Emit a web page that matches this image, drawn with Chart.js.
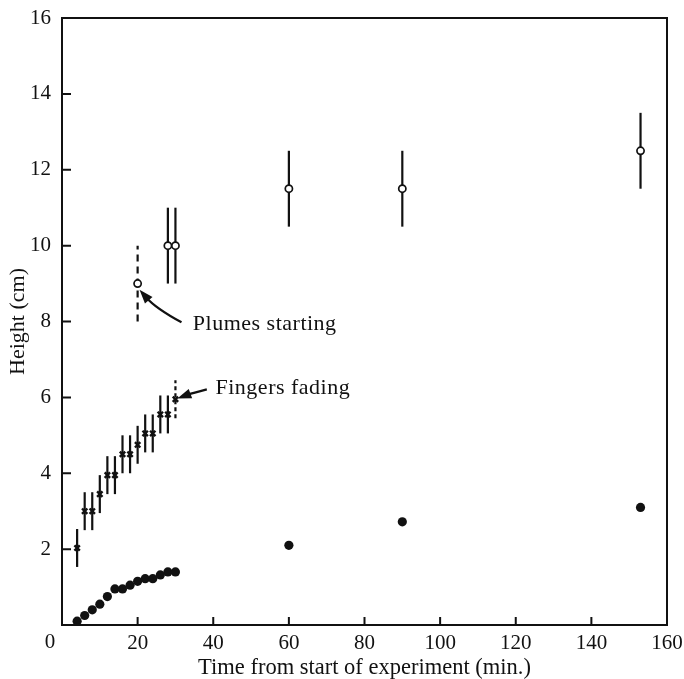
<!DOCTYPE html>
<html><head><meta charset="utf-8">
<script src="https://cdn.jsdelivr.net/npm/chart.js@4/dist/chart.umd.min.js"></script>
<style>html,body{margin:0;padding:0;background:#fff}</style>
</head><body>
<canvas id="c" width="684" height="679" style="display:block;width:684px;height:679px"></canvas>
<script>
// ---- data ----
const xTickValues = [0, 20, 40, 60, 80, 100, 120, 140, 160];
const yTickValues = [0, 2, 4, 6, 8, 10, 12, 14, 16];

// Fingers (small markers with error bars)
const fingerTime   = [4, 6, 8, 10, 12, 14, 16, 18, 20, 22, 24, 26, 28, 30];
const fingerHeight = [2.03, 3.0, 3.0, 3.45, 3.95, 3.95, 4.5, 4.5, 4.75, 5.05, 5.05, 5.55, 5.55, 5.95];
const fingerErr    = [0.5, 0.5, 0.5, 0.5, 0.5, 0.5, 0.5, 0.5, 0.5, 0.5, 0.5, 0.5, 0.5, 0.5];
const fingerDashed = [false, false, false, false, false, false, false, false, false, false, false, false, false, true];

// Plumes (open circles with error bars)
const plumeTime   = [20, 28, 30, 60, 90, 153];
const plumeHeight = [9.0, 10.0, 10.0, 11.5, 11.5, 12.5];
const plumeErr    = [1.0, 1.0, 1.0, 1.0, 1.0, 1.0];
const plumeDashed = [true, false, false, false, false, false];

// Interface (filled circles)
const solidTime   = [4, 6, 8, 10, 12, 14, 16, 18, 20, 22, 24, 26, 28, 30, 60, 90, 153];
const solidHeight = [0.1, 0.25, 0.4, 0.55, 0.75, 0.95, 0.95, 1.05, 1.15, 1.22, 1.22, 1.32, 1.4, 1.4, 2.1, 2.72, 3.1];

// Annotation texts
const annPlumesText = 'Plumes starting';
const annFingersText = 'Fingers fading';

const INK = '#111';
const FONT = 'Liberation Serif, Times New Roman, serif';

function pts(xs, ys) { return xs.map((x, i) => ({x: x, y: ys[i]})); }

const errorBarPlugin = {
  id: 'errorBars',
  beforeDatasetsDraw(chart) {
    const ctx = chart.ctx, xs = chart.scales.x, ys = chart.scales.y;
    chart.data.datasets.forEach(ds => {
      if (!ds.errors) return;
      ds.data.forEach((p, i) => {
        const px = xs.getPixelForValue(p.x);
        const y1 = ys.getPixelForValue(p.y - ds.errors[i]);
        const y2 = ys.getPixelForValue(p.y + ds.errors[i]);
        ctx.save();
        ctx.strokeStyle = INK;
        ctx.lineWidth = 2.2;
        if (ds.dashed && ds.dashed[i]) ctx.setLineDash(ds.dashPattern || [6, 5]);
        ctx.beginPath();
        ctx.moveTo(px, y1); ctx.lineTo(px, y2);
        ctx.stroke();
        ctx.restore();
      });
    });
  }
};

const framePlugin = {
  id: 'frame',
  afterDraw(chart) {
    const ctx = chart.ctx, a = chart.chartArea, xs = chart.scales.x, ys = chart.scales.y;
    ctx.save();
    ctx.strokeStyle = INK;
    ctx.lineWidth = 2;
    ctx.strokeRect(a.left, a.top, a.right - a.left, a.bottom - a.top);
    ctx.beginPath();
    xTickValues.forEach(v => {
      if (v === 0 || v === 160) return;
      const px = xs.getPixelForValue(v);
      ctx.moveTo(px, a.bottom); ctx.lineTo(px, a.bottom - 8);
    });
    yTickValues.forEach(v => {
      if (v === 0 || v === 16) return;
      const py = ys.getPixelForValue(v);
      ctx.moveTo(a.left, py); ctx.lineTo(a.left + 9, py);
    });
    ctx.stroke();
    // shared corner "0" label, set left of the origin as in the reference
    ctx.fillStyle = INK;
    ctx.font = '21px ' + FONT;
    ctx.textAlign = 'center';
    ctx.textBaseline = 'middle';
    ctx.fillText(String(xTickValues[0]), xs.getPixelForValue(xTickValues[0]) - 12, a.bottom + 17);
    ctx.restore();
  }
};

function arrow(ctx, xs, ys, tail, ctrl, head) {
  const t = [xs.getPixelForValue(tail[0]), ys.getPixelForValue(tail[1])];
  const c = [xs.getPixelForValue(ctrl[0]), ys.getPixelForValue(ctrl[1])];
  const h = [xs.getPixelForValue(head[0]), ys.getPixelForValue(head[1])];
  const ang = Math.atan2(h[1] - c[1], h[0] - c[0]);
  const L = 14, W = 5;
  const bx = h[0] - L * Math.cos(ang), by = h[1] - L * Math.sin(ang);
  ctx.beginPath();
  ctx.moveTo(t[0], t[1]);
  ctx.quadraticCurveTo(c[0], c[1], bx + 3 * Math.cos(ang), by + 3 * Math.sin(ang));
  ctx.stroke();
  ctx.beginPath();
  ctx.moveTo(h[0], h[1]);
  ctx.lineTo(bx + W * Math.sin(ang), by - W * Math.cos(ang));
  ctx.lineTo(bx - W * Math.sin(ang), by + W * Math.cos(ang));
  ctx.closePath();
  ctx.fill();
}

const annotationPlugin = {
  id: 'annotations',
  afterDatasetsDraw(chart) {
    const ctx = chart.ctx, xs = chart.scales.x, ys = chart.scales.y;
    ctx.save();
    ctx.fillStyle = INK; ctx.strokeStyle = INK; ctx.lineWidth = 2.2;
    ctx.font = '22px ' + FONT;
    try { ctx.letterSpacing = '0.5px'; } catch (e) {}
    ctx.textBaseline = 'middle';
    ctx.textAlign = 'left';
    ctx.fillText(annPlumesText, xs.getPixelForValue(34.6), ys.getPixelForValue(7.92));
    ctx.fillText(annFingersText, xs.getPixelForValue(40.6), ys.getPixelForValue(6.24));
    try { ctx.letterSpacing = '0px'; } catch (e) {}
    arrow(ctx, xs, ys, [31.6, 7.98], [24.8, 8.35], [20.5, 8.84]);
    arrow(ctx, xs, ys, [38.3, 6.21], [34, 6.1], [30.5, 5.97]);
    ctx.restore();
  }
};

new Chart(document.getElementById('c'), {
  type: 'scatter',
  data: {
    datasets: [
      {
        label: 'Fingers', data: pts(fingerTime, fingerHeight),
        errors: fingerErr, dashed: fingerDashed, dashPattern: [4, 3],
        pointStyle: 'crossRot', pointRadius: 3.8, borderWidth: 2.4,
        borderColor: INK, backgroundColor: INK, clip: false
      },
      {
        label: 'Plumes', data: pts(plumeTime, plumeHeight),
        errors: plumeErr, dashed: plumeDashed, dashPattern: [7, 5],
        pointStyle: 'circle', pointRadius: 3.6, borderWidth: 1.7,
        borderColor: INK, backgroundColor: '#fff', clip: false
      },
      {
        label: 'Interface', data: pts(solidTime, solidHeight),
        pointStyle: 'circle', pointRadius: 4.6, borderWidth: 0,
        borderColor: INK, backgroundColor: INK, clip: false
      }
    ]
  },
  options: {
    responsive: false,
    animation: false,
    devicePixelRatio: 1,
    layout: { padding: { top: 18, right: 17, left: 0, bottom: 0 } },
    plugins: { legend: { display: false }, tooltip: { enabled: false } },
    elements: { point: { hoverRadius: 4 } },
    scales: {
      x: {
        type: 'linear', min: 0, max: 160,
        afterBuildTicks: s => { s.ticks = xTickValues.map(v => ({value: v})); },
        afterFit: s => { s.height = 54; s.paddingLeft = 0; s.paddingRight = 0; },
        grid: { display: false, drawTicks: false },
        border: { display: false },
        ticks: { color: INK, font: { family: FONT, size: 21 }, padding: 6, maxRotation: 0,
                 callback: v => (v === 0 ? '' : String(v)) },
        title: { display: true, text: 'Time from start of experiment (min.)', color: INK,
                 font: { family: FONT, size: 22.5, lineHeight: 1.0 }, padding: { top: 0, bottom: 0 } }
      },
      y: {
        type: 'linear', min: 0, max: 16,
        afterBuildTicks: s => { s.ticks = yTickValues.map(v => ({value: v})); },
        afterFit: s => { s.width = 62; s.paddingTop = 0; s.paddingBottom = 0; },
        grid: { display: false, drawTicks: false },
        border: { display: false },
        ticks: { color: INK, font: { family: FONT, size: 21 }, padding: 11,
                 callback: v => (v === 0 ? '' : String(v)) },
        title: { display: true, text: 'Height (cm)', color: INK,
                 font: { family: FONT, size: 22, lineHeight: 1.0 }, padding: { top: 7, bottom: 0 } }
      }
    }
  },
  plugins: [errorBarPlugin, framePlugin, annotationPlugin]
});
</script>
</body></html>
